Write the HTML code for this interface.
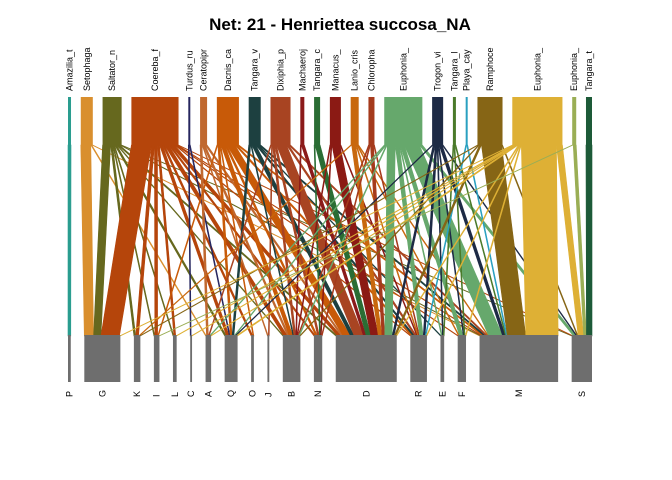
<!DOCTYPE html>
<html><head><meta charset="utf-8">
<style>
html,body{margin:0;padding:0;background:#fff;}
svg{display:block;font-family:"Liberation Sans",Arial,sans-serif;}
</style></head>
<body>
<svg id="chart" width="672" height="480" viewBox="0 0 672 480">
<defs><clipPath id="lblclip"><rect x="0" y="44" width="672" height="60"/></clipPath></defs>
<text x="340" y="30" text-anchor="middle" font-size="17" font-weight="bold">Net: 21 - Henriettea succosa_NA</text>
<g id="links"></g>
<g id="nodes"></g>
<g id="toplabels" clip-path="url(#lblclip)"></g>
</svg>
<script>
const topNames = ["Amazilia_t","Setophaga","Saltator_n","Coereba_f","Turdus_ru","Ceratopipr","Dacnis_ca","Tangara_v","Dixiphia_p","Machaeroj","Tangara_c","Manacus_","Lanio_cris","Chloropha","Euphonia_","Trogon_vi","Tangara_l","Playa_cay","Ramphoce","Euphonia_","Euphonia_","Tangara_t"];
const topColors = ["#2a9d8f","#d98f2e","#66681e","#b5450b","#26265f","#c0682f","#c85a08","#1d4040","#a84422","#8b1a1a","#2a6d34","#8b1a14","#c8680e","#a53a1c","#66a86c","#1d2a45","#4a7a2a","#2aa0c0","#866515","#deb035","#9aae55","#1d5a38"];
const bottomNames = ["P","G","K","I","L","C","A","Q","O","J","B","N","D","R","E","F","M","S"];
// links: [topIndex, bottomName, weight]
const links = [
[0,"P",3],
[1,"G",10],[1,"A",1],[1,"M",1],
[2,"G",8],[2,"K",2],[2,"I",1],[2,"L",1],[2,"Q",2],[2,"B",1],[2,"D",2],[2,"M",1],[2,"S",1],
[3,"G",20],[3,"K",3],[3,"I",3],[3,"L",2],[3,"Q",3],[3,"O",2],[3,"B",4],[3,"N",2],[3,"D",4],[3,"R",1],[3,"F",1],[3,"M",1],[3,"S",1],
[4,"C",1],[4,"Q",1],
[5,"A",2],[5,"J",1],[5,"B",2],[5,"D",2],
[6,"I",1],[6,"Q",2],[6,"O",1],[6,"B",4],[6,"N",2],[6,"D",8],[6,"R",2],[6,"M",2],
[7,"Q",2],[7,"B",1],[7,"D",4],[7,"R",2],[7,"E",1],[7,"M",2],
[8,"A",1],[8,"J",1],[8,"B",2],[8,"N",2],[8,"D",10],[8,"R",2],[8,"M",2],
[9,"B",1],[9,"D",3],
[10,"N",1],[10,"D",5],
[11,"B",1],[11,"N",1],[11,"D",8],[11,"R",1],
[12,"K",1],[12,"D",4],[12,"R",1],[12,"F",1],[12,"M",1],
[13,"B",1],[13,"N",1],[13,"D",3],[13,"R",1],
[14,"A",1],[14,"Q",1],[14,"B",1],[14,"D",8],[14,"R",4],[14,"E",1],[14,"F",4],[14,"M",15],[14,"S",3],
[15,"Q",1],[15,"D",2],[15,"R",2],[15,"E",1],[15,"F",1],[15,"M",3],[15,"S",1],
[16,"E",1],[16,"F",1],[16,"M",1],
[17,"R",1],[17,"M",1],
[18,"K",1],[18,"B",1],[18,"D",2],[18,"M",20],[18,"S",1],
[19,"G",1],[19,"L",1],[19,"C",1],[19,"A",1],[19,"Q",2],[19,"D",1],[19,"R",1],[19,"F",1],[19,"M",35],[19,"S",6],
[20,"I",1],[20,"S",3],
[21,"S",6]
];
const X0=68, X1=592, TOPW=319, BOTW=294;
const ns="http://www.w3.org/2000/svg";
const gL=document.getElementById('links'), gN=document.getElementById('nodes'), gT=document.getElementById('toplabels');
function mk(t,a){const e=document.createElementNS(ns,t);for(const k in a)e.setAttribute(k,a[k]);return e;}
const bIdx=n=>bottomNames.indexOf(n);
const tSum=topNames.map((_,i)=>links.filter(l=>l[0]===i).reduce((s,l)=>s+l[2],0));
const bSum=bottomNames.map(n=>links.filter(l=>l[1]===n).reduce((s,l)=>s+l[2],0));
function layout(sums,W){const tot=sums.reduce((a,b)=>a+b,0);const sc=W/tot;const gap=(X1-X0-W)/(sums.length-1);let x=X0;return sums.map(s=>{const o={x:x,w:s*sc,sc:sc};x+=s*sc+gap;return o;});}
const tL=layout(tSum,TOPW), bL=layout(bSum,BOTW);
const tOff=tL.map(n=>n.x), bOff=bL.map(n=>n.x);
const tSeg={},bSeg={};
topNames.forEach((_,ti)=>{links.map((l,i)=>[l,i]).filter(p=>p[0][0]===ti).sort((a,b)=>bIdx(a[0][1])-bIdx(b[0][1])).forEach(p=>{const w=p[0][2]*tL[ti].sc;tSeg[p[1]]=[tOff[ti],w];tOff[ti]+=w;});});
bottomNames.forEach((bn,bi)=>{links.map((l,i)=>[l,i]).filter(p=>p[0][1]===bn).sort((a,b)=>a[0][0]-b[0][0]).forEach(p=>{const w=p[0][2]*bL[bi].sc;bSeg[p[1]]=[bOff[bi],w];bOff[bi]+=w;});});
const YT=145, YB=336;
links.forEach((l,i)=>{const t=tSeg[i],b=bSeg[i];
 const p=mk('polygon',{points:`${t[0]},${YT} ${t[0]+t[1]},${YT} ${b[0]+b[1]},${YB} ${b[0]},${YB}`,fill:topColors[l[0]],stroke:topColors[l[0]],'stroke-width':0.6});
 
 
 gL.appendChild(p);});
topNames.forEach((n,i)=>{const nd=tL[i];
 const r=mk('rect',{x:nd.x,y:97,width:nd.w,height:YT-97+0.5,fill:topColors[i]});
 
 
 gN.appendChild(r);
 const cx=nd.x+nd.w/2+3;
 const t=mk('text',{x:0,y:0,'font-size':9,'text-anchor':'start',transform:`translate(${cx},91) rotate(-90)`});
 t.textContent=n;
 
 
 gT.appendChild(t);});
bottomNames.forEach((n,i)=>{const nd=bL[i];
 const r=mk('rect',{x:nd.x,y:335,width:nd.w,height:47,fill:'#6e6e6e'});
 
 
 gN.appendChild(r);
 const cx=nd.x+nd.w/2+3;
 const t=mk('text',{x:0,y:0,'font-size':9,'text-anchor':'start',transform:`translate(${cx},397) rotate(-90)`});
 t.textContent=n;
 
 
 gN.appendChild(t);});
</script>
</body></html>
